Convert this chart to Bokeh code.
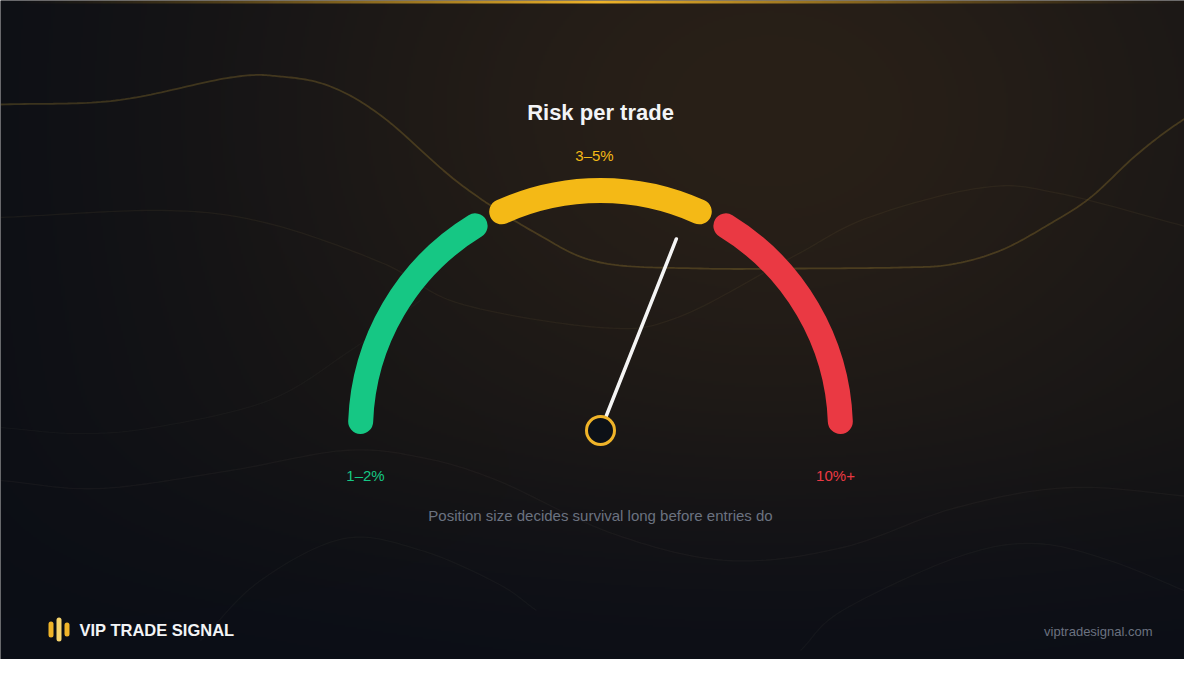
import numpy as np
from bokeh.plotting import figure
from bokeh.models import Range1d
from bokeh.core.properties import value
from bokeh.embed import file_html
from bokeh.resources import INLINE

# ---------------- data ----------------
gauge_min = 0.0
gauge_max = 100.0
segment_labels = ["1–2%", "3–5%", "10%+"]
segment_start = [1.2, 36.5, 67.5]
segment_end = [32.5, 63.5, 98.8]
segment_colors = ["#16c784", "#f4b916", "#ea3943"]
needle_value = 62.0

title_text = "Risk per trade"
subtitle_text = "Position size decides survival long before entries do"
brand_text = "VIP TRADE SIGNAL"
url_text = "viptradesignal.com"
logo_bar_heights = [16, 24, 14]
logo_bar_colors = ["#f0b429", "#f7d56e", "#f0b429"]

# decorative background waves (control points, reference pixel coords)
wave_main_x = [0, 115, 230, 280, 330, 383, 459, 536, 600, 700, 800, 900, 950, 1000, 1050, 1090, 1133, 1167, 1200]
wave_main_y = [104, 100, 77, 76, 86, 117, 183, 233, 262, 268, 268, 267, 264, 250, 223, 197, 157, 130, 108]
wave_b_x = [0, 165, 268, 383, 459, 600, 677, 791, 868, 983, 1059, 1200]
wave_b_y = [217, 210, 223, 263, 303, 327, 317, 257, 217, 187, 193, 230]
wave_c_x = [0, 99, 230, 344, 421, 497, 612, 727, 842, 956, 1071, 1200]
wave_c_y = [480, 488, 470, 450, 457, 480, 533, 560, 547, 507, 487, 497]
wave_d_x = [200, 260, 344, 421, 497, 536]
wave_d_y = [640, 580, 538, 550, 583, 610]
wave_e_x = [800, 842, 956, 1033, 1109, 1200]
wave_e_y = [650, 610, 557, 543, 560, 597]
wave_f_x = [0, 77, 153, 268, 350, 420]
wave_f_y = [427, 433, 427, 400, 350, 300]

# ---------------- layout ----------------
W, H = 1184, 659
X0, X1 = 0, W
Y0, Y1 = 675 - H, 675   # y_data = 675 - y_ref, top of figure = ref y 0


def Y(yref):
    return 675 - yref


CX, CY, R = 600, Y(430), 240
ARC_W = 25


def val_to_angle(v):
    return np.pi * (1.0 - (v - gauge_min) / (gauge_max - gauge_min))


def catmull(xs, ys, n=24):
    xs = np.asarray(xs, float)
    ys = np.asarray(ys, float)
    px = np.concatenate([[2 * xs[0] - xs[1]], xs, [2 * xs[-1] - xs[-2]]])
    py = np.concatenate([[2 * ys[0] - ys[1]], ys, [2 * ys[-1] - ys[-2]]])
    outx, outy = [], []
    for i in range(1, len(px) - 2):
        t = np.linspace(0, 1, n, endpoint=False)
        for arr, out in ((px, outx), (py, outy)):
            p0, p1, p2, p3 = arr[i - 1], arr[i], arr[i + 1], arr[i + 2]
            out.extend(0.5 * ((2 * p1) + (-p0 + p2) * t + (2 * p0 - 5 * p1 + 4 * p2 - p3) * t ** 2
                              + (-p0 + 3 * p1 - 3 * p2 + p3) * t ** 3))
    outx.append(xs[-1])
    outy.append(ys[-1])
    return np.array(outx), np.array(outy)


p = figure(width=W, height=H, x_range=Range1d(X0, X1), y_range=Range1d(Y0, Y1),
           output_backend="svg", toolbar_location=None, min_border=0)
p.axis.visible = False
p.grid.visible = False
p.outline_line_color = None
p.background_fill_color = "#131316"
p.border_fill_color = "#131316"

# ---------------- background gradient ----------------
gw, gh = 592, 330
xs = np.linspace(X0, X1, gw)
ys_data = np.linspace(Y0, Y1, gh)
XX, YY = np.meshgrid(xs, 675 - ys_data)
top = np.array([19, 19, 21.0])
bot = np.array([11, 14, 22.0])
t = np.clip((YY - 380) / (675 - 380), 0, 1)
t = t * t * (3 - 2 * t)
col = top * (1 - t[..., None]) + bot * t[..., None]
left = np.clip(1 - XX / 420, 0, 1) ** 1.5 * 0.75
cool = np.array([11, 14, 22.0])
col = col * (1 - left[..., None]) + cool * left[..., None]
g = np.exp(-(((XX - 770) / 330) ** 2 + ((YY - 110) / 250) ** 2) / 2)
col += np.array([22, 13, 3.0]) * g[..., None]
img = np.empty((gh, gw), dtype=np.uint32)
view = img.view(np.uint8).reshape(gh, gw, 4)
view[..., :3] = np.clip(col, 0, 255).astype(np.uint8)
view[..., 3] = 255
p.image_rgba(image=[img], x=X0, y=Y0, dw=W, dh=H)

# top gold line
lw = 592
lx = np.linspace(X0, X1, lw)
la = np.clip(1 - np.abs(lx - 600) / 600, 0, 1) ** 1.3
line_img = np.empty((1, lw), dtype=np.uint32)
lv = line_img.view(np.uint8).reshape(1, lw, 4)
lv[..., 0] = 240
lv[..., 1] = 180
lv[..., 2] = 41
lv[..., 3] = (la * 255).astype(np.uint8)
p.image_rgba(image=[line_img], x=X0, y=Y1 - 3, dw=W, dh=3)

# waves
for wx, wy, c, a, w in [
    (wave_main_x, wave_main_y, "#c9a53a", 0.24, 1.8),
    (wave_b_x, wave_b_y, "#a08a50", 0.09, 1.3),
    (wave_c_x, wave_c_y, "#8a8070", 0.07, 1.3),
    (wave_d_x, wave_d_y, "#8a8070", 0.06, 1.3),
    (wave_e_x, wave_e_y, "#8a8070", 0.06, 1.3),
    (wave_f_x, wave_f_y, "#8a8070", 0.05, 1.3),
]:
    sx, sy = catmull(wx, wy)
    p.line(sx, 675 - sy, line_color=c, line_alpha=a, line_width=w)

# ---------------- gauge ----------------
a_start = [val_to_angle(v) for v in segment_end]
a_end = [val_to_angle(v) for v in segment_start]
p.arc(x=[CX] * 3, y=[CY] * 3, radius=R, start_angle=a_start, end_angle=a_end,
      line_color=segment_colors, line_width=ARC_W, line_cap="round")

# needle
na = val_to_angle(needle_value)
NL = 206
p.segment(x0=[CX], y0=[CY], x1=[CX + NL * np.cos(na)], y1=[CY + NL * np.sin(na)],
          line_color="#f5f5f5", line_width=3.5, line_cap="round")
p.circle(x=[CX], y=[CY], radius=14, fill_color="#0d1117", line_color="#f0b429", line_width=3)

# segment labels
font = value("Liberation Sans")
lab_x = [CX - R + 5, 594, CX + R - 5]
lab_y = [Y(475), Y(155), Y(475)]
p.text(x=lab_x, y=lab_y, text=segment_labels, text_color=segment_colors,
       text_font=font, text_font_size="15px", text_align="center", text_baseline="middle")

# titles
p.text(x=[CX], y=[Y(112)], text=[title_text], text_color="#f3f4f6", text_font=font,
       text_font_style="bold", text_font_size="22px", text_align="center", text_baseline="middle")
p.text(x=[CX], y=[Y(515)], text=[subtitle_text], text_color="#6b7280", text_font=font,
       text_font_size="15px", text_align="center", text_baseline="middle")

# footer
bar_x = [50.5, 58.5, 66.5]
fy = Y(629)
p.segment(x0=bar_x, x1=bar_x,
          y0=[fy - h / 2 + 2.5 for h in logo_bar_heights],
          y1=[fy + h / 2 - 2.5 for h in logo_bar_heights],
          line_color=logo_bar_colors, line_width=5, line_cap="round")
p.text(x=[79], y=[fy], text=[brand_text], text_color="#f3f4f6", text_font=font,
       text_font_style="bold", text_font_size="16.5px", text_align="left", text_baseline="middle")
p.text(x=[1152], y=[Y(631)], text=[url_text], text_color="#6b7280", text_font=font,
       text_font_size="13px", text_align="right", text_baseline="middle")

open("out.html", "w").write(file_html(p, INLINE))
